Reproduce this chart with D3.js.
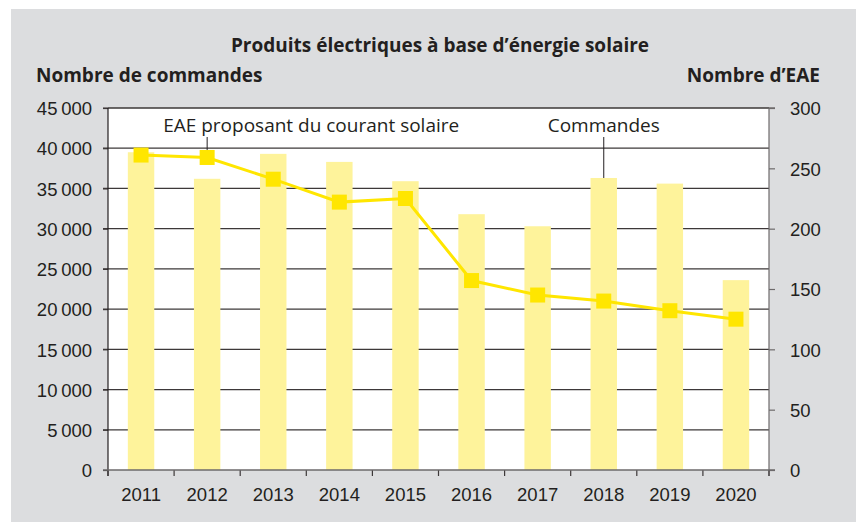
<!DOCTYPE html>
<html>
<head>
<meta charset="utf-8">
<script src="https://cdn.jsdelivr.net/npm/d3@7"></script>
<style>
  html, body { margin: 0; padding: 0; background: #ffffff; }
  svg { display: block; font-family: "Open Sans", "Noto Sans", sans-serif; }
  .tick-label { font-size: 18.5px; fill: #231f20; }
  .bold { font-weight: 700; fill: #231f20; }
</style>
</head>
<body>
<svg id="chart"></svg>
<script>
// Data
const years = ["2011", "2012", "2013", "2014", "2015", "2016", "2017", "2018", "2019", "2020"];
const commandes = [39500, 36200, 39300, 38300, 35900, 31800, 30300, 36300, 35600, 23600];
const eae = [261, 259, 241, 222, 225, 157, 145, 140, 132, 125];
const leftTicks = [0, 5000, 10000, 15000, 20000, 25000, 30000, 35000, 40000, 45000];
const rightTicks = [0, 50, 100, 150, 200, 250, 300];

// Layout
const W = 856, H = 522;
const plot = { left: 108, right: 769, top: 108, bottom: 470 };

const colors = {
  panel: "#dcdddf",
  bar: "#fef39b",
  line: "#ffe600",
  ink: "#231f20",
  grid: "#3d3839",
  axisGray: "#6d6a6b",
};

const fr = d3.formatLocale({ decimal: ",", thousands: "\u2009", grouping: [3], currency: ["", ""] });
const fmt = fr.format(",d");

const svg = d3.select("#chart").attr("width", W).attr("height", H);

// Background panel and plot area
svg.append("rect").attr("x", 11).attr("y", 9).attr("width", W - 11).attr("height", H - 9).attr("fill", colors.panel);
svg.append("rect")
  .attr("x", plot.left).attr("y", plot.top)
  .attr("width", plot.right - plot.left).attr("height", plot.bottom - plot.top)
  .attr("fill", "#ffffff");

// Scales
const x = d3.scaleBand().domain(years).range([plot.left, plot.right]).paddingInner(0.6).paddingOuter(0.3);
const yLeft = d3.scaleLinear().domain([0, 45000]).range([plot.bottom, plot.top]);
const yRight = d3.scaleLinear().domain([0, 300]).range([plot.bottom, plot.top]);

// Grid lines (left axis ticks)
svg.append("g")
  .selectAll("line")
  .data(leftTicks.filter((d) => d > 0))
  .join("line")
  .attr("x1", plot.left - 5).attr("x2", plot.right)
  .attr("y1", (d) => yLeft(d)).attr("y2", (d) => yLeft(d))
  .attr("stroke", colors.grid).attr("stroke-width", 1.2);

// top border extends to right tick
svg.append("line")
  .attr("x1", plot.left).attr("x2", plot.right + 6)
  .attr("y1", yLeft(45000)).attr("y2", yLeft(45000))
  .attr("stroke", colors.grid).attr("stroke-width", 1.2);

// Bars
svg.append("g")
  .selectAll("rect")
  .data(years)
  .join("rect")
  .attr("x", (d) => x(d))
  .attr("width", x.bandwidth())
  .attr("y", (d, i) => yLeft(commandes[i]))
  .attr("height", (d, i) => yLeft(0) - yLeft(commandes[i]))
  .attr("fill", colors.bar);

// Left axis
const gLeft = svg.append("g")
  .attr("transform", `translate(${plot.left},0)`)
  .call(d3.axisLeft(yLeft).tickValues(leftTicks).tickFormat(fmt).tickSize(5).tickPadding(11));
gLeft.select(".domain").remove();
gLeft.selectAll(".tick line").attr("stroke", colors.grid).attr("stroke-width", 1.2);
gLeft.selectAll(".tick text").attr("class", "tick-label").attr("font-family", null).attr("font-size", null).attr("dy", "0.36em");
svg.append("line")
  .attr("x1", plot.left).attr("x2", plot.left)
  .attr("y1", plot.top).attr("y2", plot.bottom + 6)
  .attr("stroke", colors.ink).attr("stroke-width", 1.2);

// Right axis
const gRight = svg.append("g")
  .attr("transform", `translate(${plot.right},0)`)
  .call(d3.axisRight(yRight).tickValues(rightTicks).tickSize(6).tickPadding(15));
gRight.select(".domain").remove();
gRight.selectAll(".tick line").attr("stroke", colors.axisGray).attr("stroke-width", 1.2);
gRight.selectAll(".tick text").attr("class", "tick-label").attr("font-family", null).attr("font-size", null).attr("dy", "0.36em");
svg.append("line")
  .attr("x1", plot.right).attr("x2", plot.right)
  .attr("y1", plot.top).attr("y2", plot.bottom + 6)
  .attr("stroke", colors.axisGray).attr("stroke-width", 1.2);

// Bottom axis: labels at band centres, ticks at band boundaries
const gBottom = svg.append("g")
  .attr("transform", `translate(0,${plot.bottom})`)
  .call(d3.axisBottom(x).tickSize(0).tickPadding(18));
gBottom.select(".domain").remove();
gBottom.selectAll(".tick text").attr("class", "tick-label").attr("font-family", null).attr("font-size", null).attr("dy", "0.71em");
const step = x.step();
const boundaries = d3.range(years.length + 1).map((i) => plot.left + i * step);
svg.append("g")
  .selectAll("line")
  .data(boundaries)
  .join("line")
  .attr("x1", (d) => d).attr("x2", (d) => d)
  .attr("y1", plot.bottom).attr("y2", plot.bottom + 6)
  .attr("stroke", colors.grid).attr("stroke-width", 1.2);
svg.append("line")
  .attr("x1", plot.left - 5).attr("x2", plot.right + 6)
  .attr("y1", plot.bottom).attr("y2", plot.bottom)
  .attr("stroke", colors.axisGray).attr("stroke-width", 1.6);

// EAE line and markers
const cx = (d) => x(d) + x.bandwidth() / 2;
const line = d3.line().x((d, i) => cx(years[i])).y((d) => yRight(d));
svg.append("path")
  .datum(eae)
  .attr("d", line)
  .attr("fill", "none")
  .attr("stroke", colors.line)
  .attr("stroke-width", 3);
const mk = 15;
svg.append("g")
  .selectAll("rect")
  .data(eae)
  .join("rect")
  .attr("x", (d, i) => cx(years[i]) - mk / 2)
  .attr("y", (d) => yRight(d) - mk / 2)
  .attr("width", mk).attr("height", mk)
  .attr("fill", colors.line);

// Annotations
const eaeIdx = 1;
const eaeX = cx(years[eaeIdx]);
svg.append("line")
  .attr("x1", eaeX).attr("x2", eaeX)
  .attr("y1", 137).attr("y2", yRight(eae[eaeIdx]) - mk / 2)
  .attr("stroke", colors.ink).attr("stroke-width", 1);
svg.append("text")
  .attr("x", eaeX - 44).attr("y", 132)
  .attr("font-size", 19).attr("fill", colors.ink)
  .text("EAE proposant du courant solaire");

const cmdIdx = 7;
const cmdX = cx(years[cmdIdx]);
svg.append("line")
  .attr("x1", cmdX).attr("x2", cmdX)
  .attr("y1", 137).attr("y2", yLeft(commandes[cmdIdx]))
  .attr("stroke", colors.ink).attr("stroke-width", 1);
svg.append("text")
  .attr("x", cmdX).attr("y", 132)
  .attr("text-anchor", "middle")
  .attr("font-size", 19).attr("fill", colors.ink)
  .text("Commandes");

// Titles
svg.append("text")
  .attr("class", "bold")
  .attr("x", 440).attr("y", 52)
  .attr("text-anchor", "middle")
  .attr("font-size", 19)
  .text("Produits électriques à base d’énergie solaire");
svg.append("text")
  .attr("class", "bold")
  .attr("x", 36).attr("y", 82)
  .attr("font-size", 19)
  .text("Nombre de commandes");
svg.append("text")
  .attr("class", "bold")
  .attr("x", 820).attr("y", 82)
  .attr("text-anchor", "end")
  .attr("font-size", 19)
  .text("Nombre d’EAE");
</script>
</body>
</html>
